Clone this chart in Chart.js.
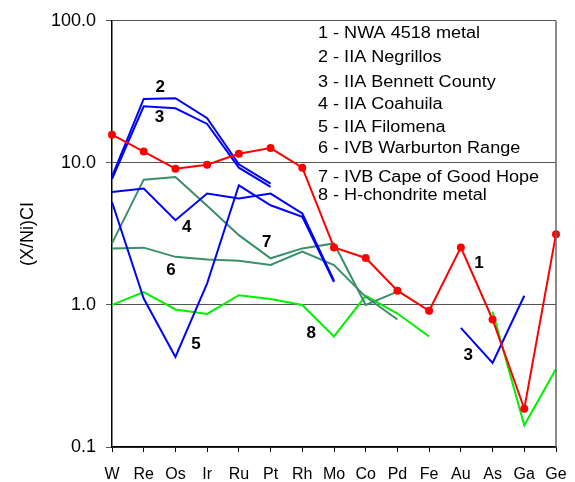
<!DOCTYPE html>
<html>
<head>
<meta charset="utf-8">
<script src="https://cdn.jsdelivr.net/npm/chart.js@4"></script>
<style>
  html, body { margin: 0; padding: 0; background: #fff; }
  #wrap { width: 575px; height: 482px; }
</style>
</head>
<body>
<div id="wrap"><canvas id="c" width="575" height="482"></canvas></div>
<script>
const categories = ['W','Re','Os','Ir','Ru','Pt','Rh','Mo','Co','Pd','Fe','Au','As','Ga','Ge'];
const yTicks = [0.1, 1, 10, 100];

const s1NWA4518     = [15.8, 12.0, 9.1, 9.7, 11.6, 12.7, 9.25, 2.54, 2.14, 1.26, 0.91, 2.54, 0.79, 0.186, 3.15];
const s2Negrillos   = [8.0, 28.2, 28.5, 20.6, 9.76, 7.15, null, null, null, null, null, null, null, null, null];
const s3Bennett     = [7.7, 25.0, 24.2, 18.8, 9.25, 6.77, null, null, null, null, null, 0.69, 0.39, 1.16, null];
const s4Coahuila    = [6.24, 6.59, 3.95, 6.08, 5.61, 6.08, 4.4, 1.48, null, null, null, null, null, null, null];
const s5Filomena    = [5.3, 1.11, 0.43, 1.42, 6.95, 5.03, 4.17, 1.45, null, null, null, null, null, null, null];
const s6Warburton   = [2.50, 2.53, 2.18, 2.09, 2.05, 1.91, 2.37, 1.91, 1.14, 0.79, null, null, null, null, null];
const s7CapeGood    = [2.71, 7.62, 7.95, 5.0, 3.1, 2.13, 2.50, 2.71, 1.0, 1.24, null, null, null, null, null];
const s8Hchondrite  = [1.0, 1.23, 0.93, 0.865, 1.17, 1.10, 1.0, 0.60, 1.16, 0.87, 0.60, null, 0.90, 0.142, 0.354];

const legendLines = [
  '1 - NWA 4518 metal',
  '2 - IIA Negrillos',
  '3 - IIA Bennett County',
  '4 - IIA Coahuila',
  '5 - IIA Filomena',
  '6 - IVB Warburton Range',
  '7 - IVB Cape of Good Hope',
  '8 - H-chondrite metal'
];
const legendYOffsets = [13, 37, 62, 84, 107, 128, 157, 175];

// in-plot series labels: [text, category index position, value]
const seriesLabels = [
  ['2', 1.52, 33.9],
  ['3', 1.50, 20.9],
  ['4', 2.36, 3.53],
  ['5', 2.65, 0.524],
  ['6', 1.86, 1.76],
  ['7', 4.88, 2.77],
  ['8', 6.28, 0.63],
  ['1', 11.57, 1.95],
  ['3', 11.23, 0.44]
];

const RED = '#FF0000', BLUE = '#0000FF', TEAL = '#3B8F68', GREEN = '#00F000';
const FONT = '"Liberation Sans", Arial, sans-serif';

function ds(data, color, pts) {
  return {
    data: data,
    borderColor: color,
    backgroundColor: color,
    borderWidth: 2,
    pointRadius: pts ? 4 : 0,
    pointHoverRadius: pts ? 4 : 0,
    pointBorderWidth: 0,
    tension: 0,
    spanGaps: false,
    fill: false
  };
}

const overlay = {
  id: 'overlay',
  afterDatasetsDraw(chart) {
    const ctx = chart.ctx;
    const ca = chart.chartArea;
    const xs = chart.scales.x, ys = chart.scales.y;
    ctx.save();
    // right frame line
    ctx.strokeStyle = '#666';
    ctx.lineWidth = 1.5;
    ctx.beginPath();
    ctx.moveTo(ca.right, ca.top);
    ctx.lineTo(ca.right, ca.bottom);
    ctx.stroke();
    // legend text
    ctx.fillStyle = '#000';
    ctx.font = '16px ' + FONT;
    ctx.textBaseline = 'middle';
    ctx.textAlign = 'left';
    legendLines.forEach((t, i) => {
      ctx.save();
      ctx.translate(ca.left + 206, ca.top + legendYOffsets[i]);
      ctx.scale(1.13, 1);
      ctx.fillText(t, 0, 0);
      ctx.restore();
    });
    // series labels
    ctx.font = 'bold 17px ' + FONT;
    ctx.textAlign = 'center';
    seriesLabels.forEach(([t, xi, v]) => {
      ctx.fillText(t, xs.getPixelForValue(xi), ys.getPixelForValue(v));
    });
    ctx.restore();
  }
};

new Chart(document.getElementById('c'), {
  type: 'line',
  data: {
    labels: categories,
    datasets: [
      ds(s1NWA4518, RED, true),
      ds(s2Negrillos, BLUE, false),
      ds(s3Bennett, BLUE, false),
      ds(s4Coahuila, BLUE, false),
      ds(s5Filomena, BLUE, false),
      ds(s6Warburton, TEAL, false),
      ds(s7CapeGood, TEAL, false),
      ds(s8Hchondrite, GREEN, false)
    ]
  },
  options: {
    responsive: false,
    animation: false,
    events: [],
    layout: { padding: { top: 20, right: 19, bottom: 0, left: 0 } },
    plugins: { legend: { display: false }, tooltip: { enabled: false } },
    scales: {
      x: {
        type: 'category',
        offset: false,
        afterFit(scale) { scale.height = 35; scale.paddingRight = 10; scale.paddingLeft = 10; },
        grid: { drawOnChartArea: false, drawTicks: true, tickLength: 5, color: '#000', lineWidth: 1 },
        border: { color: '#000', width: 1.5 },
        ticks: { color: '#000', font: { family: FONT, size: 16 }, padding: 13, maxRotation: 0, autoSkip: false }
      },
      y: {
        type: 'logarithmic',
        min: 0.1,
        max: 100,
        afterFit(scale) { scale.width = 112; },
        afterBuildTicks(scale) { scale.ticks = yTicks.map(v => ({ value: v })); },
        grid: { color: '#555', lineWidth: 1, drawTicks: true, tickLength: 6 },
        border: { color: '#000', width: 1.5 },
        ticks: {
          color: '#000',
          font: { family: FONT, size: 18 },
          padding: 10,
          callback: (v) => Number(v).toFixed(1)
        },
        title: {
          display: true,
          text: '(X/Ni)CI',
          color: '#000',
          font: { family: FONT, size: 18 },
          padding: { top: 17, bottom: 0 }
        }
      }
    }
  },
  plugins: [overlay]
});
</script>
</body>
</html>
